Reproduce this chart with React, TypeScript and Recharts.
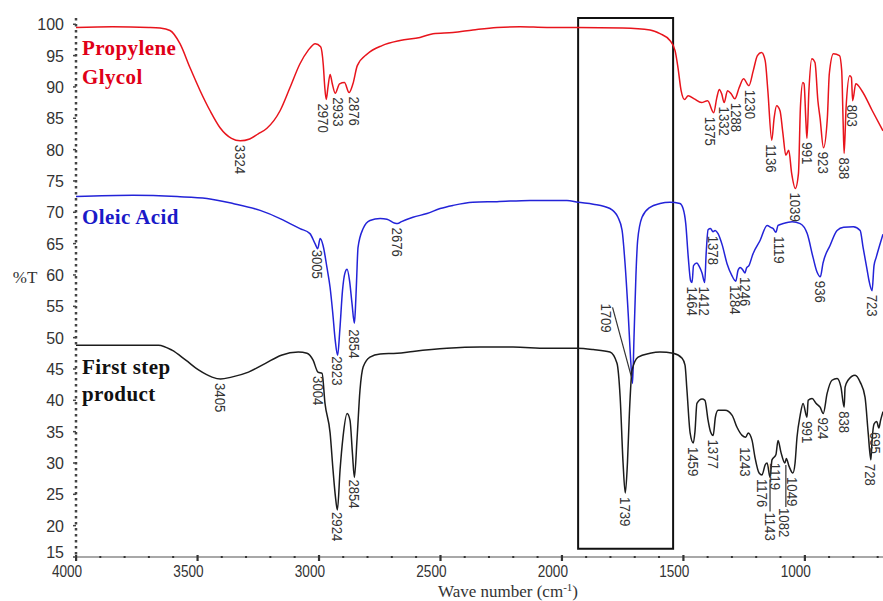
import React from "react";
import {
  ComposedChart,
  Line,
  XAxis,
  YAxis,
  ReferenceArea,
  ReferenceDot,
} from "recharts";

// [wave number (cm-1), %T]
const propyleneGlycol: [number, number][] = [
  [4000, 99.5], [3850, 99.6], [3700, 99.5], [3654, 99.4], [3613, 99.0],
  [3572, 96.9], [3531, 93.1], [3489, 89.4], [3448, 86.2], [3407, 83.5],
  [3360, 81.8], [3324, 81.4], [3285, 81.7], [3250, 82.5], [3214, 83.4],
  [3160, 86.2], [3119, 89.9], [3078, 93.7], [3045, 95.8], [3015, 96.9],
  [2993, 96.4], [2982, 93.5], [2976, 90.0], [2970, 88.0], [2963, 89.9],
  [2954, 92.0], [2945, 90.5], [2933, 89.0], [2915, 90.5], [2895, 90.7],
  [2876, 89.1], [2860, 90.5], [2842, 93.4], [2800, 95.3], [2740, 96.6],
  [2666, 97.4], [2584, 97.9], [2530, 98.5], [2448, 98.7], [2366, 99.1],
  [2267, 99.5], [2172, 99.6], [2061, 99.5], [1937, 99.5], [1750, 99.4],
  [1637, 99.1], [1596, 98.5], [1555, 97.4], [1534, 95.8], [1522, 93.1],
  [1509, 89.4], [1495, 88.0], [1480, 88.6], [1455, 88.1], [1425, 87.5],
  [1400, 87.8], [1375, 85.9], [1362, 88.3], [1352, 89.6], [1342, 88.9],
  [1332, 87.5], [1318, 89.4], [1303, 88.9], [1288, 88.1], [1270, 89.9],
  [1252, 91.3], [1230, 90.2], [1212, 92.6], [1195, 95.0], [1178, 95.5],
  [1163, 94.2], [1152, 89.4], [1136, 81.5], [1126, 85.1], [1116, 87.0],
  [1102, 86.2], [1090, 82.6], [1078, 79.1], [1066, 79.9], [1054, 76.2],
  [1039, 73.8], [1026, 76.2], [1018, 86.7], [1008, 90.7], [1003, 90.5],
  [995, 84.2], [991, 81.8], [983, 89.4], [971, 94.5], [958, 93.9],
  [946, 87.8], [937, 85.0], [923, 80.3], [907, 85.1], [899, 92.1],
  [882, 95.3], [857, 95.0], [848, 92.6], [842, 84.2], [838, 79.4],
  [830, 86.7], [815, 91.8], [808, 91.5], [803, 87.8], [790, 90.5],
  [765, 89.4], [722, 86.2], [678, 83.0],
];

const oleicAcid: [number, number][] = [
  [4000, 72.5], [3765, 72.7], [3584, 72.5], [3461, 72.2], [3354, 71.4],
  [3242, 70.3], [3160, 69.0], [3119, 68.2], [3078, 67.4], [3037, 66.6],
  [3016, 65.0], [3005, 64.2], [2995, 65.8], [2983, 64.7], [2967, 61.2],
  [2954, 58.0], [2943, 53.9], [2933, 49.6], [2923, 47.2], [2914, 51.2],
  [2903, 57.5], [2893, 60.3], [2884, 60.9], [2874, 59.1], [2864, 55.5],
  [2854, 52.3], [2850, 54.5], [2845, 59.1], [2839, 64.4], [2818, 67.4],
  [2790, 68.7], [2748, 69.0], [2720, 68.9], [2690, 68.3], [2676, 68.2],
  [2660, 68.5], [2613, 69.2], [2555, 69.8], [2501, 70.6], [2448, 71.1],
  [2366, 71.6], [2267, 71.7], [2131, 71.9], [1979, 71.9], [1933, 71.6],
  [1871, 71.3], [1802, 70.6], [1769, 69.2], [1752, 67.1], [1740, 61.9],
  [1727, 53.9], [1716, 46.0], [1709, 42.7], [1703, 50.0], [1695, 60.0],
  [1688, 65.5], [1670, 69.2], [1637, 70.8], [1596, 71.4], [1555, 71.6],
  [1514, 71.4], [1501, 70.6], [1490, 68.2], [1480, 63.0], [1470, 59.1],
  [1464, 58.8], [1458, 61.5], [1444, 61.9], [1435, 61.4], [1423, 60.3],
  [1412, 58.8], [1406, 63.4], [1398, 67.2], [1388, 67.4], [1378, 66.9],
  [1369, 67.1], [1357, 66.6], [1340, 64.8], [1320, 61.8], [1300, 59.9],
  [1284, 59.0], [1275, 60.7], [1266, 61.2], [1255, 60.8], [1246, 60.3],
  [1240, 61.1], [1230, 61.5], [1213, 63.4], [1184, 65.5], [1155, 67.9],
  [1140, 67.6], [1130, 67.4], [1119, 66.8], [1110, 67.9], [1089, 68.2],
  [1052, 68.5], [1019, 68.2], [990, 66.6], [966, 62.8], [950, 60.5],
  [936, 59.7], [925, 61.9], [896, 64.7], [867, 67.1], [840, 67.6],
  [800, 67.7], [772, 67.1], [760, 64.4], [742, 60.5], [735, 59.0],
  [723, 57.5], [715, 61.5], [706, 62.8], [678, 66.5],
];

const firstStepProduct: [number, number][] = [
  [4000, 48.8], [3660, 48.8], [3605, 48.0], [3548, 46.4], [3494, 44.8],
  [3440, 43.7], [3405, 43.4], [3360, 43.7], [3290, 44.5], [3220, 45.9],
  [3155, 47.2], [3085, 47.7], [3049, 47.5], [3024, 46.4], [3004, 44.5],
  [2987, 44.3], [2975, 39.5], [2954, 34.8], [2942, 28.9], [2932, 24.6],
  [2924, 22.5], [2913, 28.9], [2901, 34.1], [2884, 37.9], [2872, 36.8],
  [2862, 31.5], [2854, 27.7], [2843, 33.9], [2831, 41.6], [2818, 45.3],
  [2790, 46.9], [2748, 47.4], [2678, 47.5], [2613, 47.8], [2473, 48.3],
  [2337, 48.5], [2201, 48.5], [2061, 48.3], [1937, 48.3], [1871, 48.1],
  [1802, 47.7], [1773, 45.9], [1760, 40.5], [1748, 30.0], [1739, 25.2],
  [1730, 30.0], [1722, 37.9], [1711, 44.8], [1686, 46.9], [1637, 47.5],
  [1596, 47.7], [1542, 47.5], [1505, 46.7], [1493, 45.6], [1485, 41.6],
  [1472, 34.8], [1459, 33.2], [1452, 35.0], [1444, 39.5], [1423, 40.2],
  [1411, 40.0], [1398, 36.8], [1388, 35.0], [1377, 34.4], [1368, 37.3],
  [1357, 38.4], [1328, 38.4], [1299, 37.6], [1279, 35.7], [1258, 34.4],
  [1243, 34.1], [1233, 34.8], [1217, 33.6], [1205, 30.9], [1188, 28.4],
  [1176, 28.1], [1163, 29.7], [1155, 30.0], [1143, 27.7], [1135, 30.5],
  [1119, 31.3], [1110, 33.6], [1098, 31.7], [1082, 30.0], [1076, 30.7],
  [1065, 29.5], [1049, 28.4], [1040, 30.0], [1032, 34.1], [1019, 37.6],
  [1007, 39.5], [991, 37.3], [986, 40.0], [970, 40.3], [953, 39.5],
  [937, 38.9], [924, 37.9], [908, 41.1], [888, 43.2], [867, 43.5],
  [851, 42.1], [838, 38.9], [834, 42.1], [822, 43.2], [793, 44.0],
  [772, 42.9], [752, 40.5], [739, 34.8], [728, 30.5], [723, 33.6],
  [715, 36.2], [704, 36.6], [695, 35.6], [688, 36.8], [678, 38.2],
];

// labelled absorption bands
const propylenePeaks = [3324, 2970, 2933, 2876, 1375, 1332, 1288, 1230, 1136, 1039, 991, 923, 838, 803];
const oleicPeaks = [3005, 2923, 2854, 2676, 1709, 1464, 1412, 1378, 1284, 1246, 1119, 936, 723];
const productPeaks = [3405, 3004, 2924, 2854, 1739, 1459, 1377, 1243, 1176, 1143, 1119, 1082, 1049, 991, 924, 838, 728, 695];

const xTicks = [
  4000, 3900, 3800, 3700, 3600, 3500, 3400, 3300, 3200, 3100, 3000, 2900,
  2800, 2700, 2600, 2500, 2400, 2300, 2200, 2100, 2000, 1900, 1800, 1700,
  1600, 1500, 1400, 1300, 1200, 1100, 1000, 900, 800, 700,
];
const yTicks = [15, 20, 25, 30, 35, 40, 45, 50, 55, 60, 65, 70, 75, 80, 85, 90, 95, 100];

const RED = "#e8141c";
const BLUE = "#2323d8";
const BLACK = "#1c1c1c";
const SANS = "'Liberation Sans', Arial, sans-serif";
const SERIF = "'Liberation Serif', 'Times New Roman', serif";

type Tweak = { dx?: number; dy?: number; leader?: [number, number, number, number] };

// per-label nudges so crowded labels don't collide
const tweaks: Record<string, Tweak> = {
  "pg-2970": { dx: -3 },
  "pg-2933": { dx: 3 },
  "pg-2876": { dx: 5 },
  "pg-1375": { dx: -3 },
  "pg-1288": { dx: 2 },
  "pg-1230": { dx: 2 },
  "oa-3005": { dy: 1 },
  "oa-2923": { dy: 1 },
  "oa-2854": { dy: 6 },
  "oa-1709": { dx: -26, dy: -80, leader: [-20, -76, -1, -6] },
  "oa-1119": { dx: 4 },
  "fs-2924": { dy: 2 },
  "fs-2854": { dy: 2 },
  "fs-1243": { dy: 10 },
  "fs-1143": { dy: 35, leader: [0, 2, 0, 34] },
  "fs-1119": { dy: 8 },
  "fs-1082": { dy: 45, leader: [1, 2, 1, 44] },
  "fs-695": { dx: -3 },
};

const toPoints = (rows: [number, number][]) => rows.map(([w, t]) => ({ w, t }));
const valueAt = (rows: [number, number][], w: number) =>
  (rows.find((r) => r[0] === w) ?? [w, 0])[1];

function PeakLabel({ cx, cy, text, tweak }: { cx: number; cy: number; text: string; tweak?: Tweak }) {
  const dx = tweak?.dx ?? 0;
  const dy = tweak?.dy ?? 4;
  const l = tweak?.leader;
  return (
    <g>
      {l && (
        <line x1={cx + l[0]} y1={cy + l[1]} x2={cx + l[2]} y2={cy + l[3]} stroke="#333" strokeWidth={1.2} />
      )}
      <text
        transform={`translate(${cx + dx},${cy + dy}) rotate(90) scale(0.85,1)`}
        dy="0.35em"
        fontSize={15.5}
        fontFamily={SANS}
        fill="#333"
      >
        {text}
      </text>
    </g>
  );
}

function XTick(props: any) {
  const { x, y, payload } = props;
  const major = payload.value % 500 === 0;
  return (
    <g>
      {major ? (
        <rect x={x - 1} y={y - 2} width={2.2} height={6} fill="#333" />
      ) : (
        <rect x={x - 1} y={y - 1} width={2} height={2} fill="#333" />
      )}
      {major && (
        <text
          transform={`translate(${x - 9},${y + 20}) scale(0.85,1)`}
          textAnchor="middle"
          fontSize={16}
          fontFamily={SANS}
          fill="#333"
        >
          {payload.value}
        </text>
      )}
    </g>
  );
}

function YTick(props: any) {
  const { x, y, payload } = props;
  const lift = payload.value === 15 ? -5 : 0;
  return (
    <g>
      <line x1={x - 3} y1={y} x2={x} y2={y} stroke="#444" strokeWidth={1.5} />
      <text x={x - 12} y={y + 6 + lift} textAnchor="end" fontSize={16} fontFamily={SANS} fill="#333">
        {payload.value}
      </text>
    </g>
  );
}

const series = [
  { key: "pg", rows: propyleneGlycol, peaks: propylenePeaks, color: RED },
  { key: "oa", rows: oleicAcid, peaks: oleicPeaks, color: BLUE },
  { key: "fs", rows: firstStepProduct, peaks: productPeaks, color: BLACK },
];

export default function App() {
  return (
    <div style={{ position: "absolute", left: 0, top: 0, width: 883, height: 601, background: "#fff" }}>
      <ComposedChart width={883} height={601} margin={{ top: 18, right: 0, bottom: 0, left: 0 }}>
        <XAxis
          type="number"
          dataKey="w"
          domain={[678, 4000]}
          reversed
          allowDataOverflow
          ticks={xTicks}
          interval={0}
          height={44}
          tickSize={0}
          tickMargin={0}
          tickLine={false}
          tick={<XTick />}
          axisLine={{ stroke: "#a8a8a8", strokeWidth: 2 }}
        />
        <YAxis
          type="number"
          domain={[15, 101]}
          allowDataOverflow
          ticks={yTicks}
          interval={0}
          width={76}
          tickSize={0}
          tickMargin={0}
          tickLine={false}
          tick={<YTick />}
          axisLine={{ stroke: "#444", strokeWidth: 2.5, strokeDasharray: "2.5 3.5" }}
        />
        <ReferenceArea
          x1={1933}
          x2={1542}
          y1={16.3}
          y2={101}
          fill="none"
          stroke="#111"
          strokeWidth={2}
          ifOverflow="visible"
        />
        {series.map((s) => (
          <Line
            key={s.key}
            data={toPoints(s.rows)}
            dataKey="t"
            type="monotoneX"
            stroke={s.color}
            strokeWidth={1.5}
            dot={false}
            activeDot={false}
            isAnimationActive={false}
          />
        ))}
        {series.map((s) =>
          s.peaks.map((w) => (
            <ReferenceDot
              key={`${s.key}-${w}`}
              x={w}
              y={valueAt(s.rows, w)}
              r={0}
              ifOverflow="visible"
              shape={(p: any) => (
                <PeakLabel cx={p.cx} cy={p.cy} text={String(w)} tweak={tweaks[`${s.key}-${w}`]} />
              )}
            />
          ))
        )}
      </ComposedChart>
      <svg
        width={883}
        height={601}
        style={{ position: "absolute", left: 0, top: 0, pointerEvents: "none" }}
      >
        <g fontFamily={SERIF} fontWeight="bold" fontSize={21} letterSpacing={0.4}>
          <text x={82} y={55} fill="#e00018">Propylene</text>
          <text x={82} y={84} fill="#e00018">Glycol</text>
          <text x={82} y={224} fill="#1a1ac8">Oleic Acid</text>
          <text x={82} y={374} fill="#111">First step</text>
          <text x={82} y={401} fill="#111">product</text>
        </g>
        <text x={25} y={283} textAnchor="middle" fontFamily={SERIF} fontSize={17} fill="#333">
          %T
        </text>
        <text x={508} y={597} textAnchor="middle" fontFamily={SERIF} fontSize={17} fill="#333">
          Wave number (cm
          <tspan dy={-6} fontSize={11}>-1</tspan>
          <tspan dy={6}>)</tspan>
        </text>
      </svg>
    </div>
  );
}
